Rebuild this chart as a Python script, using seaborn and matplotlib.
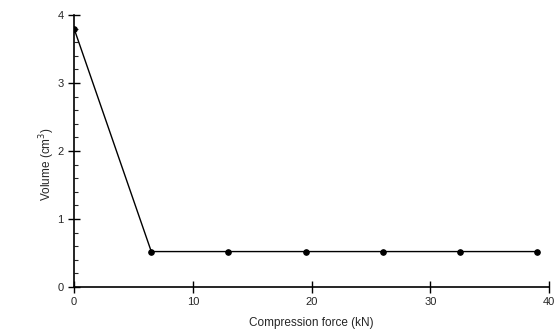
import matplotlib
matplotlib.use('Agg')
import matplotlib.pyplot as plt
import seaborn as sns
import pandas as pd
from matplotlib.ticker import MultipleLocator

# data
force_kn = [0, 6.5, 13, 19.5, 26, 32.5, 39]
volume_cm3 = [3.8, 0.52, 0.52, 0.52, 0.52, 0.52, 0.52]

df = pd.DataFrame({'force': force_kn, 'volume': volume_cm3})

sns.set_style('ticks')
plt.rcParams['font.family'] = ['Liberation Sans', 'DejaVu Sans']

fig = plt.figure(figsize=(5.57, 3.34), dpi=100)
ax = fig.add_axes([0.133, 0.141, 0.853, 0.814])

sns.lineplot(data=df, x='force', y='volume', ax=ax,
             color='black', linewidth=1.0,
             marker='o', markersize=4, markeredgecolor='black')

ax.set_xlim(0, 40)
ax.set_ylim(0, 4)
ax.xaxis.set_major_locator(MultipleLocator(10))
ax.yaxis.set_major_locator(MultipleLocator(1))
ax.yaxis.set_minor_locator(MultipleLocator(0.2))
ax.tick_params(axis='both', which='major', direction='inout', length=8, width=1.0,
               labelsize=8, color='black')
ax.tick_params(axis='y', which='minor', direction='in', length=3, width=0.8)

ax.set_xlabel('Compression force (kN)', fontsize=8.5, labelpad=7)
ax.set_ylabel('Volume (cm$^3$)', fontsize=8.5)
ax.yaxis.set_label_coords(-0.035, 0.45)

for s in ['left', 'bottom']:
    ax.spines[s].set_linewidth(1.2)
    ax.spines[s].set_color('black')
sns.despine(ax=ax)

plt.savefig('out.png', dpi=100)
